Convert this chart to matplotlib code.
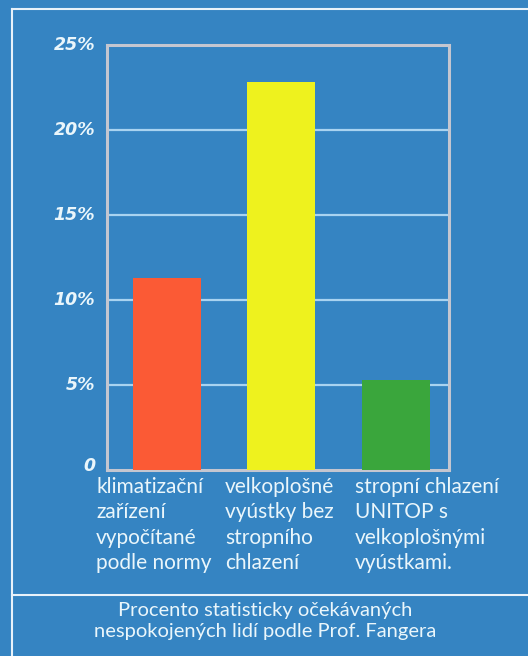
import matplotlib.pyplot as plt
import matplotlib.lines as mlines

categories = ['klimatizační\nzařízení\nvypočítané\npodle normy',
              'velkoplošné\nvyústky bez\nstropního\nchlazení',
              'stropní chlazení\nUNITOP s\nvelkoplošnými\nvyústkami.']
values = [11.3, 22.8, 5.3]
bar_colors = ['#fb5a35', '#eef21e', '#3aa63c']
yticks = [0, 5, 10, 15, 20, 25]
ytick_labels = ['0', '5%', '10%', '15%', '20%', '25%']
caption = 'Procento statisticky očekávaných\nnespokojených lidí podle Prof. Fangera'

bg = '#3584c2'
txt = '#eaf6fb'
W, H = 528, 656

fig = plt.figure(figsize=(W/100, H/100), dpi=100)
fig.patch.set_facecolor(bg)

ax = fig.add_axes([107/W, 1-470/H, (449-107)/W, (470-45)/H])
ax.set_facecolor(bg)
x = list(range(len(values)))
ax.bar(x, values, width=0.594, color=bar_colors, zorder=3)
for v in yticks[1:-1]:
    ax.axhline(v, color='#a9d3f0', lw=1.6, zorder=1)
ax.set_xlim(-0.524, 2.463)
ax.set_ylim(0, 25)
ax.set_xticks([])
ax.set_yticks([])
for s in ax.spines.values():
    s.set_color('#c4c6d0')
    s.set_linewidth(2.2)

# y labels
for v, lab in zip(yticks, ytick_labels):
    yy = 470 - v*17 - (4 if v == 0 else 0)
    fig.text(95/W, 1-yy/H, lab, ha='right', va='center', color=txt,
             fontsize=12.5, fontstyle='italic', fontweight='bold', family='DejaVu Sans')

# category labels
for xpos, lab in zip([96, 225, 355], categories):
    fig.text(xpos/W, 1-477/H, lab, ha='left', va='top', color=txt,
             fontsize=15, family='Lato', linespacing=1.33)

fig.text(265/W, 1-621/H, caption, ha='center', va='center', color=txt,
         fontsize=14.5, family='Lato', linespacing=1.25)

# frame lines
lc = '#e8f2fa'
fig.add_artist(mlines.Line2D([12/W, 1], [1-9/H, 1-9/H], color=lc, lw=1.5))
fig.add_artist(mlines.Line2D([12/W, 12/W], [1-9/H, 0], color=lc, lw=1.5))
fig.add_artist(mlines.Line2D([12/W, 1], [1-595/H, 1-595/H], color=lc, lw=1.5))

plt.savefig('out.png', dpi=100, facecolor=bg)
